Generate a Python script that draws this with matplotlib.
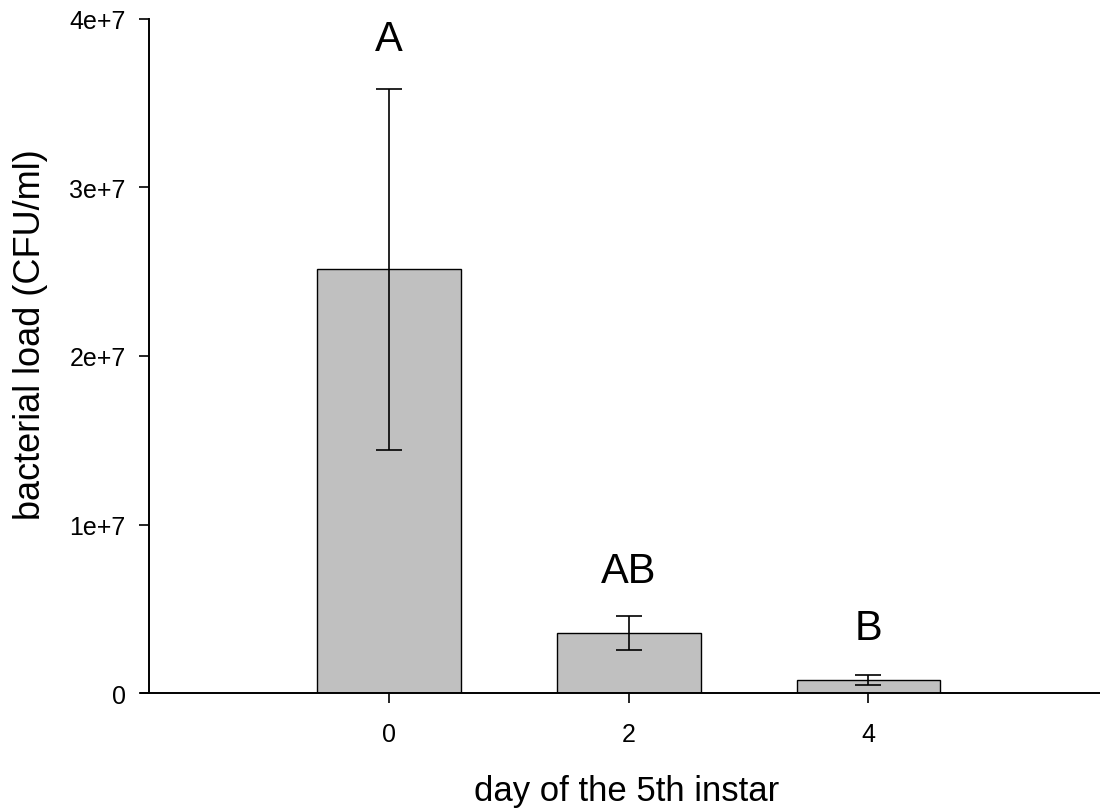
import matplotlib
matplotlib.use("Agg")
import matplotlib.pyplot as plt

# data
days = ["0", "2", "4"]
load_mean = [2.515e7, 0.355e7, 0.078e7]
load_err = [1.07e7, 0.10e7, 0.03e7]
groups = ["A", "AB", "B"]
letter_y = [3.818e7, 0.66e7, 0.32e7]
yticks = [0, 1e7, 2e7, 3e7, 4e7]
ytick_labels = ["0", "1e+7", "2e+7", "3e+7", "4e+7"]

plt.rcParams["font.family"] = ["Liberation Sans", "DejaVu Sans"]

fig = plt.figure(figsize=(11, 8.12), dpi=100)
ax = fig.add_axes([0.128, 0.1453, 0.872, 0.8301])

pos = range(len(days))
ax.bar(pos, load_mean, width=0.6, color="#c0c0c0", edgecolor="black", linewidth=1.0, zorder=2)
ax.errorbar(pos, load_mean, yerr=load_err, fmt="none", ecolor="black",
            elinewidth=1.2, capsize=9.5, capthick=1.2, zorder=3)

for x, lab, y in zip(pos, groups, letter_y):
    ax.text(x, y, lab, ha="center", va="baseline", fontsize=30)

ax.set_xlim(-1.036, 2.966)
ax.set_ylim(0, 4e7)
ax.set_xticks(list(pos))
ax.set_xticklabels(days)
ax.set_yticks(yticks)
ax.set_yticklabels(ytick_labels)

ax.spines["top"].set_visible(False)
ax.spines["right"].set_visible(False)
ax.spines["left"].set_position(("data", -1.0))
ax.spines["left"].set_linewidth(1.4)
ax.spines["bottom"].set_linewidth(1.4)

ax.tick_params(axis="both", direction="out", length=7, width=1.2, labelsize=18)
ax.tick_params(axis="x", pad=14)
ax.tick_params(axis="y", pad=10)

ax.set_xlabel("day of the 5th instar", fontsize=25)
ax.set_ylabel("bacterial load (CFU/ml)", fontsize=26)
ax.xaxis.set_label_coords(0.5067, -0.12)
ax.yaxis.set_label_coords(-0.097, 0.533)

fig.savefig("out.png", dpi=100)
